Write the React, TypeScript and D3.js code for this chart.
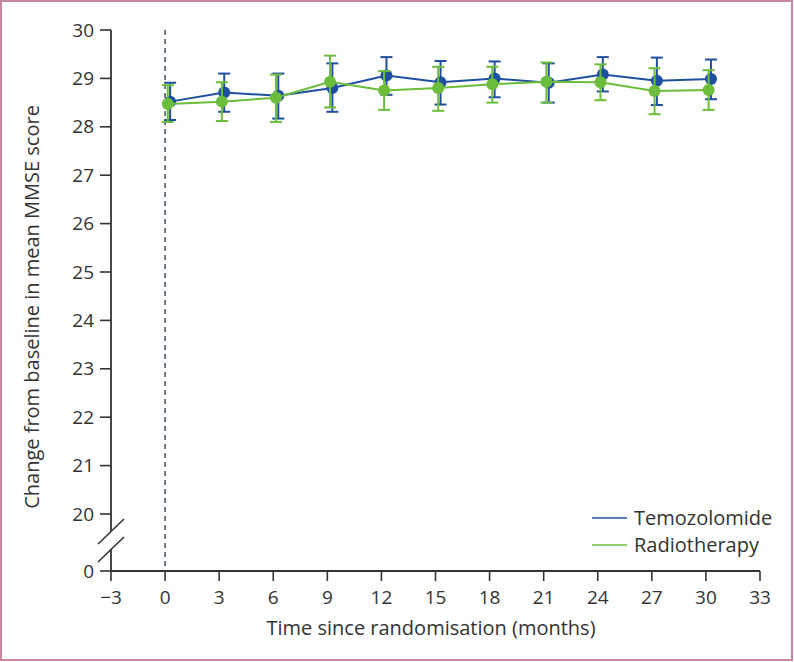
import * as d3 from 'd3';

const months = [0, 3, 6, 9, 12, 15, 18, 21, 24, 27, 30];
const temoMean = [28.52, 28.71, 28.64, 28.8, 29.06, 28.92, 29.0, 28.91, 29.08, 28.95, 28.99];
const temoLow = [28.14, 28.31, 28.17, 28.31, 28.66, 28.46, 28.61, 28.5, 28.73, 28.45, 28.57];
const temoHigh = [28.91, 29.1, 29.1, 29.31, 29.44, 29.36, 29.35, 29.31, 29.44, 29.43, 29.39];
const radioMean = [28.47, 28.52, 28.6, 28.93, 28.75, 28.8, 28.88, 28.93, 28.92, 28.74, 28.76];
const radioLow = [28.1, 28.12, 28.1, 28.4, 28.35, 28.33, 28.5, 28.5, 28.55, 28.26, 28.35];
const radioHigh = [28.86, 28.92, 29.08, 29.47, 29.15, 29.24, 29.24, 29.33, 29.29, 29.21, 29.17];

const xTicks = [-3, 0, 3, 6, 9, 12, 15, 18, 21, 24, 27, 30, 33];
const yTicks = [20, 21, 22, 23, 24, 25, 26, 27, 28, 29, 30];
const seriesNames = ['Temozolomide', 'Radiotherapy'];

const width = 794;
const height = 662;
const font = '"Open Sans", "Noto Sans", sans-serif';
const ink = '#333';
const BLUE = '#1f4fa0';
const GREEN = '#6cbd3c';

export default function App() {
  const x = d3.scaleLinear().domain([-3, 33]).range([111, 760]);
  const y = d3.scaleLinear().domain([20, 30]).range([514, 30]);
  const yZero = 571;
  // axis break sits between 20 and 0
  const breakTop = 531;
  const breakBottom = 549;

  const series = [
    { name: seriesNames[0], color: BLUE, mean: temoMean, low: temoLow, high: temoHigh, dodge: 0.28 },
    { name: seriesNames[1], color: GREEN, mean: radioMean, low: radioLow, high: radioHigh, dodge: 0.15 },
  ];

  const line = d3
    .line<number>()
    .x((_, i) => 0)
    .y((d) => y(d));

  return (
    <svg
      width={width}
      height={height}
      viewBox={`0 0 ${width} ${height}`}
      style={{ position: 'absolute', left: 0, top: 0, background: '#fff' }}
      fontFamily={font}
    >
      <rect x={1} y={1} width={791} height={659} fill="#fff" stroke="#c7879f" strokeWidth={2} />

      {/* dashed baseline marker at month 0 */}
      <line x1={x(0)} x2={x(0)} y1={y(30)} y2={yZero} stroke="#4d5f5f" strokeWidth={1.6} strokeDasharray="5 4" />

      {/* y axis */}
      <line x1={x(-3)} x2={x(-3)} y1={y(30)} y2={breakTop} stroke={ink} strokeWidth={1.8} />
      <line x1={x(-3)} x2={x(-3)} y1={breakBottom} y2={yZero} stroke={ink} strokeWidth={1.8} />
      <line x1={x(-3) - 13} y1={544} x2={x(-3) + 13} y2={519} stroke={ink} strokeWidth={1.6} />
      <line x1={x(-3) - 13} y1={562} x2={x(-3) + 13} y2={537} stroke={ink} strokeWidth={1.6} />
      {yTicks.map((t) => (
        <g key={`y-${t}`}>
          <line x1={x(-3) - 11} x2={x(-3)} y1={y(t)} y2={y(t)} stroke={ink} strokeWidth={1.6} />
          <text x={x(-3) - 17} y={y(t)} dy="0.35em" textAnchor="end" fontSize={19} fill={ink}>
            {t}
          </text>
        </g>
      ))}
      <line x1={x(-3) - 11} x2={x(-3)} y1={yZero} y2={yZero} stroke={ink} strokeWidth={1.6} />
      <text x={x(-3) - 17} y={yZero} dy="0.35em" textAnchor="end" fontSize={19} fill={ink}>
        0
      </text>

      {/* x axis */}
      <line x1={x(-3)} x2={x(33)} y1={yZero} y2={yZero} stroke={ink} strokeWidth={1.8} />
      {xTicks.map((t) => (
        <g key={`x-${t}`}>
          <line x1={x(t)} x2={x(t)} y1={yZero} y2={yZero + 10} stroke={ink} strokeWidth={1.6} />
          <text x={x(t)} y={604} textAnchor="middle" fontSize={19} fill={ink}>
            {t < 0 ? `−${Math.abs(t)}` : t}
          </text>
        </g>
      ))}

      <text x={431} y={635} textAnchor="middle" fontSize={20} fill={ink}>
        Time since randomisation (months)
      </text>
      <text transform="translate(39,307) rotate(-90)" textAnchor="middle" fontSize={20} fill={ink}>
        Change from baseline in mean MMSE score
      </text>

      {series.map((s) => {
        const px = (i: number) => x(months[i] + s.dodge);
        const path = line.x((_, i) => px(i))(s.mean) ?? '';
        return (
          <g key={s.name}>
            <path d={path} fill="none" stroke={s.color} strokeWidth={2} />
            {s.mean.map((m, i) => (
              <g key={i}>
                <line x1={px(i)} x2={px(i)} y1={y(s.low[i])} y2={y(s.high[i])} stroke={s.color} strokeWidth={2} />
                <line x1={px(i) - 6} x2={px(i) + 6} y1={y(s.low[i])} y2={y(s.low[i])} stroke={s.color} strokeWidth={2} />
                <line x1={px(i) - 6} x2={px(i) + 6} y1={y(s.high[i])} y2={y(s.high[i])} stroke={s.color} strokeWidth={2} />
                <circle cx={px(i)} cy={y(m)} r={6} fill={s.color} />
              </g>
            ))}
          </g>
        );
      })}

      {/* legend */}
      {series.map((s, i) => (
        <g key={`leg-${s.name}`} transform={`translate(592,${518 + i * 27})`}>
          <line x1={0} x2={35} y1={0} y2={0} stroke={s.color} strokeWidth={1.6} />
          <text x={42} y={0} dy="0.35em" fontSize={20} fill={ink}>
            {s.name}
          </text>
        </g>
      ))}
    </svg>
  );
}
